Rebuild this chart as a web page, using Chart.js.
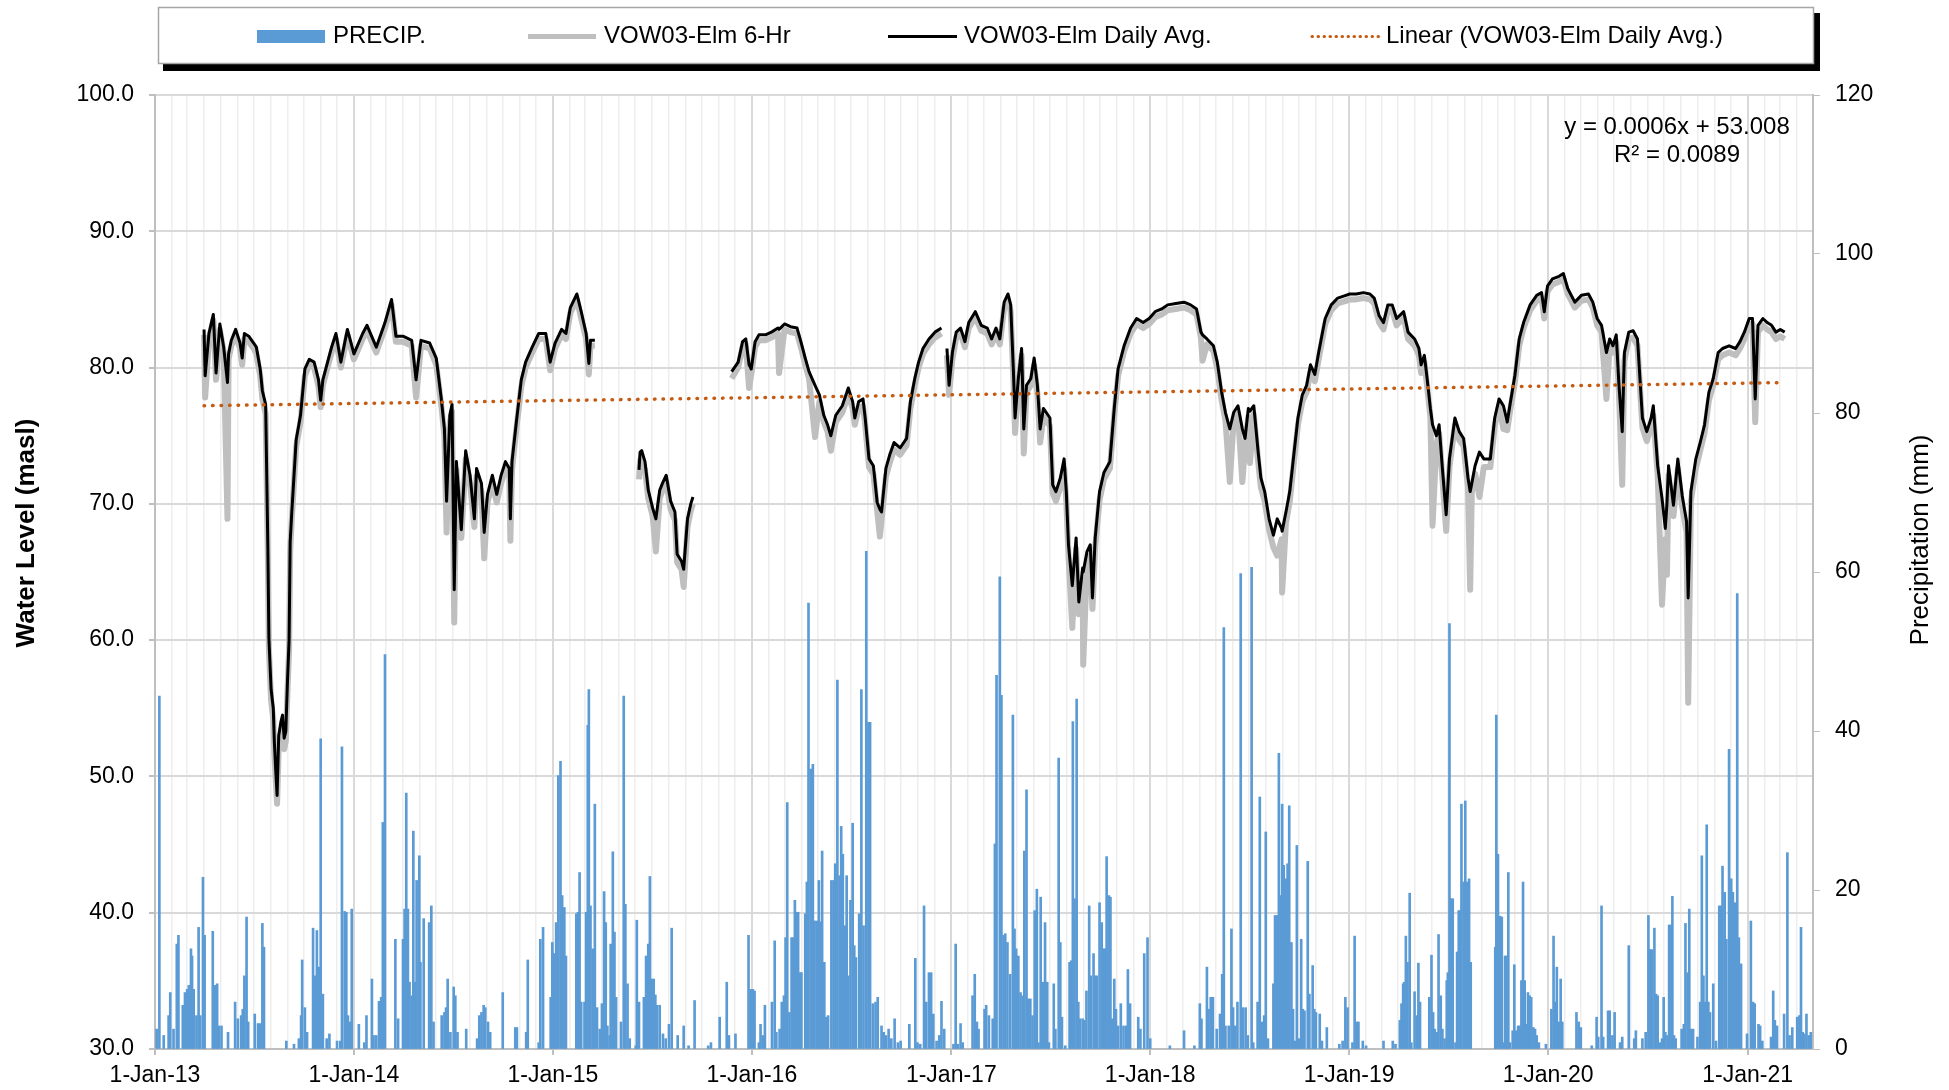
<!DOCTYPE html>
<html>
<head>
<meta charset="utf-8">
<title>VOW03-Elm water level and precipitation</title>
<script src="https://cdn.jsdelivr.net/npm/chart.js@4.4.1/dist/chart.umd.min.js"></script>
<style>
  html, body { margin: 0; padding: 0; background: #fff; }
  #wrap { width: 1949px; height: 1090px; position: relative; }
</style>
</head>
<body>
<div id="wrap"><canvas id="chart"></canvas></div>
<script>
// x values are Excel serial dates, like in the source sheet (41275 = 1-Jan-13)
const xMin = 41275;
const xMax = 44317;

const levelTicks = [30, 40, 50, 60, 70, 80, 90, 100];
const precipTicks = [0, 20, 40, 60, 80, 100, 120];

// VOW03-Elm daily average water level (masl), null = no record
const dailyAvg = [
  ['2013-04-01', 82.8], ['2013-04-03', 79.4], ['2013-04-10', 82.5], ['2013-04-18', 83.9], ['2013-04-23', 79.6],
  ['2013-04-30', 83.2], ['2013-05-07', 81.5], ['2013-05-14', 78.9], ['2013-05-16', 81.0], ['2013-05-21', 82.0],
  ['2013-05-29', 82.8], ['2013-06-06', 81.8], ['2013-06-10', 80.7], ['2013-06-14', 82.5], ['2013-06-22', 82.3],
  ['2013-07-01', 81.8], ['2013-07-06', 81.5], ['2013-07-13', 79.9], ['2013-07-17', 78.3], ['2013-07-23', 77.3],
  ['2013-07-27', 67.0], ['2013-07-29', 60.1], ['2013-08-02', 56.4], ['2013-08-06', 55.0], ['2013-08-08', 52.5],
  ['2013-08-11', 50.1], ['2013-08-13', 48.6], ['2013-08-16', 53.0], ['2013-08-20', 54.0], ['2013-08-23', 54.5],
  ['2013-08-26', 52.8], ['2013-08-29', 53.3], ['2013-09-01', 56.9], ['2013-09-04', 60.0], ['2013-09-06', 67.2],
  ['2013-09-09', 69.4], ['2013-09-17', 74.7], ['2013-09-25', 76.5], ['2013-10-03', 79.9], ['2013-10-11', 80.6],
  ['2013-10-20', 80.4], ['2013-10-28', 79.1], ['2013-11-01', 77.6], ['2013-11-05', 79.1], ['2013-11-21', 81.5],
  ['2013-11-29', 82.5], ['2013-12-08', 80.4], ['2013-12-20', 82.8], ['2014-01-01', 81.0], ['2014-01-17', 82.5],
  ['2014-01-25', 83.1], ['2014-02-11', 81.5], ['2014-02-27', 83.3], ['2014-03-11', 85.0], ['2014-03-19', 82.3],
  ['2014-04-01', 82.3], ['2014-04-17', 82.0], ['2014-04-25', 79.1], ['2014-05-04', 82.0], ['2014-05-20', 81.8],
  ['2014-06-01', 80.7], ['2014-06-10', 77.8], ['2014-06-16', 75.5], ['2014-06-20', 70.2], ['2014-06-26', 76.5],
  ['2014-06-30', 77.3], ['2014-07-04', 63.7], ['2014-07-08', 73.1], ['2014-07-17', 68.1], ['2014-07-25', 73.9],
  ['2014-08-02', 72.1], ['2014-08-10', 68.9], ['2014-08-14', 72.6], ['2014-08-23', 71.5], ['2014-08-28', 67.9],
  ['2014-09-03', 70.7], ['2014-09-12', 72.1], ['2014-09-20', 70.7], ['2014-09-28', 72.1], ['2014-10-06', 73.1],
  ['2014-10-13', 72.6], ['2014-10-15', 68.9], ['2014-10-18', 73.1], ['2014-10-26', 76.0], ['2014-11-04', 79.1],
  ['2014-11-12', 80.4], ['2014-11-24', 81.5], ['2014-12-06', 82.5], ['2014-12-19', 82.5], ['2014-12-27', 80.4],
  ['2015-01-05', 81.8], ['2015-01-17', 82.8], ['2015-01-25', 82.5], ['2015-02-02', 84.4], ['2015-02-14', 85.4],
  ['2015-02-22', 84.1], ['2015-03-03', 82.5], ['2015-03-08', 80.3], ['2015-03-11', 82.0], ['2015-03-19', 82.0],
  ['2015-04-20', null],
  ['2015-06-08', 72.5], ['2015-06-10', 73.8], ['2015-06-13', 73.9], ['2015-06-19', 73.1], ['2015-06-25', 71.0],
  ['2015-07-03', 69.7], ['2015-07-09', 68.9], ['2015-07-16', 71.0], ['2015-07-21', 71.5], ['2015-07-28', 72.1],
  ['2015-08-05', 70.2], ['2015-08-13', 69.4], ['2015-08-17', 66.3], ['2015-08-25', 65.8], ['2015-08-29', 65.2],
  ['2015-09-05', 68.9], ['2015-09-11', 70.0], ['2015-09-15', 70.5],
  ['2015-10-15', null],
  ['2015-11-25', 79.7], ['2015-12-07', 80.4], ['2015-12-15', 81.9], ['2015-12-21', 82.1], ['2015-12-27', 80.2],
  ['2015-12-31', 79.9], ['2016-01-07', 81.9], ['2016-01-14', 82.4], ['2016-01-26', 82.4], ['2016-02-06', 82.6],
  ['2016-02-18', 82.9], ['2016-02-20', 82.8], ['2016-03-01', 83.2], ['2016-03-12', 83.0], ['2016-03-24', 82.9],
  ['2016-03-31', 81.9], ['2016-04-08', 80.7], ['2016-04-15', 79.7], ['2016-04-26', 78.7], ['2016-05-04', 78.0],
  ['2016-05-12', 76.5], ['2016-05-19', 75.8], ['2016-05-25', 75.0], ['2016-06-03', 76.5], ['2016-06-15', 77.2],
  ['2016-06-26', 78.5], ['2016-07-04', 77.5], ['2016-07-08', 76.3], ['2016-07-15', 77.5], ['2016-07-23', 77.7],
  ['2016-07-27', 76.3], ['2016-08-03', 73.3], ['2016-08-11', 72.8], ['2016-08-18', 70.1], ['2016-08-23', 69.6],
  ['2016-08-26', 69.4], ['2016-09-03', 72.6], ['2016-09-10', 73.6], ['2016-09-18', 74.5], ['2016-09-29', 74.1],
  ['2016-10-11', 74.8], ['2016-10-18', 77.5], ['2016-10-26', 79.2], ['2016-11-02', 80.4], ['2016-11-10', 81.4],
  ['2016-11-21', 82.1], ['2016-12-02', 82.6], ['2016-12-14', 82.9],
  ['2016-12-19', null],
  ['2016-12-24', 81.4], ['2016-12-28', 78.7], ['2017-01-03', 81.1], ['2017-01-10', 82.6], ['2017-01-18', 82.9],
  ['2017-01-26', 81.9], ['2017-02-02', 83.3], ['2017-02-14', 84.1], ['2017-02-25', 83.1], ['2017-03-08', 82.9],
  ['2017-03-16', 82.1], ['2017-03-24', 82.9], ['2017-03-31', 82.1], ['2017-04-08', 84.8], ['2017-04-15', 85.4],
  ['2017-04-20', 84.6], ['2017-04-25', 79.7], ['2017-04-28', 76.3], ['2017-05-04', 79.2], ['2017-05-10', 81.4],
  ['2017-05-14', 75.5], ['2017-05-19', 78.7], ['2017-05-27', 79.2], ['2017-06-02', 80.7], ['2017-06-08', 78.7],
  ['2017-06-13', 75.5], ['2017-06-19', 77.0], ['2017-07-01', 76.3], ['2017-07-06', 71.4], ['2017-07-12', 70.9],
  ['2017-07-20', 71.9], ['2017-07-27', 73.3], ['2017-07-31', 70.9], ['2017-08-04', 67.0], ['2017-08-11', 64.0],
  ['2017-08-18', 67.5], ['2017-08-23', 62.8], ['2017-08-30', 65.3], ['2017-08-31', 65.0], ['2017-09-07', 66.5],
  ['2017-09-13', 67.0], ['2017-09-17', 63.1], ['2017-09-22', 67.5], ['2017-09-30', 70.9], ['2017-10-08', 72.3],
  ['2017-10-19', 73.1], ['2017-10-27', 77.0], ['2017-11-03', 79.9], ['2017-11-14', 81.6], ['2017-11-26', 82.9],
  ['2017-12-07', 83.6], ['2017-12-19', 83.3], ['2017-12-30', 83.6], ['2018-01-10', 84.1], ['2018-01-22', 84.3],
  ['2018-02-02', 84.6], ['2018-02-17', 84.7], ['2018-03-04', 84.8], ['2018-03-16', 84.6], ['2018-03-27', 84.3],
  ['2018-04-04', 82.6], ['2018-04-07', 82.4], ['2018-04-15', 82.1], ['2018-04-27', 81.6], ['2018-05-04', 80.4],
  ['2018-05-12', 78.2], ['2018-05-19', 76.7], ['2018-05-27', 75.5], ['2018-06-03', 76.7], ['2018-06-11', 77.2],
  ['2018-06-19', 75.5], ['2018-06-24', 74.8], ['2018-06-30', 77.0], ['2018-07-03', 76.8], ['2018-07-10', 77.2],
  ['2018-07-18', 73.8], ['2018-07-23', 71.9], ['2018-07-30', 70.9], ['2018-08-07', 68.9], ['2018-08-15', 67.7],
  ['2018-08-22', 68.9], ['2018-08-30', 68.2], ['2018-08-31', 68.0], ['2018-09-07', 69.4], ['2018-09-14', 70.9],
  ['2018-09-22', 73.8], ['2018-09-29', 76.3], ['2018-10-07', 78.0], ['2018-10-15', 78.7], ['2018-10-22', 80.2],
  ['2018-10-30', 79.5], ['2018-11-06', 81.1], ['2018-11-18', 83.6], ['2018-11-29', 84.6], ['2018-12-11', 85.1],
  ['2018-12-26', 85.3], ['2019-01-02', 85.4], ['2019-01-14', 85.4], ['2019-01-27', 85.5], ['2019-02-08', 85.4],
  ['2019-02-16', 85.1], ['2019-02-25', 83.8], ['2019-03-05', 83.3], ['2019-03-13', 84.6], ['2019-03-21', 84.6],
  ['2019-03-29', 83.6], ['2019-04-11', 84.1], ['2019-04-19', 82.6], ['2019-05-01', 82.1], ['2019-05-09', 81.4],
  ['2019-05-13', 80.2], ['2019-05-19', 80.9], ['2019-05-24', 79.2], ['2019-05-30', 77.0], ['2019-06-03', 75.8],
  ['2019-06-10', 75.0], ['2019-06-15', 75.8], ['2019-06-21', 72.6], ['2019-06-28', 69.2], ['2019-07-04', 73.3],
  ['2019-07-14', 76.3], ['2019-07-22', 75.3], ['2019-07-30', 74.8], ['2019-08-07', 71.9], ['2019-08-11', 70.9],
  ['2019-08-14', 71.5], ['2019-08-20', 72.8], ['2019-08-28', 73.8], ['2019-09-05', 73.3], ['2019-09-17', 73.3],
  ['2019-09-25', 76.3], ['2019-10-03', 77.7], ['2019-10-11', 77.2], ['2019-10-18', 76.0], ['2019-10-24', 77.5],
  ['2019-11-01', 79.4], ['2019-11-09', 82.1], ['2019-11-17', 83.3], ['2019-11-29', 84.6], ['2019-12-11', 85.3],
  ['2019-12-20', 85.5], ['2019-12-25', 84.1], ['2019-12-31', 86.0], ['2020-01-09', 86.5], ['2020-01-21', 86.7],
  ['2020-01-29', 86.9], ['2020-02-06', 85.8], ['2020-02-19', 84.8], ['2020-03-02', 85.3], ['2020-03-15', 85.4],
  ['2020-03-23', 84.8], ['2020-03-31', 83.6], ['2020-04-08', 83.1], ['2020-04-17', 81.1], ['2020-04-23', 82.1],
  ['2020-04-29', 81.6], ['2020-05-05', 82.4], ['2020-05-10', 78.7], ['2020-05-16', 75.3], ['2020-05-20', 81.1],
  ['2020-05-28', 82.6], ['2020-06-05', 82.7], ['2020-06-13', 82.1], ['2020-06-22', 76.3], ['2020-06-30', 75.3],
  ['2020-07-08', 76.3], ['2020-07-12', 77.2], ['2020-07-20', 72.8], ['2020-07-28', 70.4], ['2020-08-03', 68.2],
  ['2020-08-06', 70.0], ['2020-08-09', 72.8], ['2020-08-18', 69.9], ['2020-08-26', 73.3], ['2020-09-03', 70.6],
  ['2020-09-11', 68.7], ['2020-09-14', 63.1], ['2020-09-19', 70.9], ['2020-09-28', 73.3], ['2020-10-06', 74.5],
  ['2020-10-14', 75.8], ['2020-10-22', 78.2], ['2020-10-30', 79.2], ['2020-11-08', 81.1], ['2020-11-16', 81.4],
  ['2020-11-28', 81.6], ['2020-12-10', 81.4], ['2020-12-18', 81.9], ['2020-12-26', 82.6], ['2021-01-04', 83.6],
  ['2021-01-10', 83.6], ['2021-01-15', 77.7], ['2021-01-20', 83.1], ['2021-01-29', 83.6], ['2021-02-06', 83.3],
  ['2021-02-14', 83.1], ['2021-02-22', 82.6], ['2021-03-02', 82.8], ['2021-03-10', 82.6],
];

// VOW03-Elm 6-hour readings (masl), lower envelope and single-reading dips
const sixHour = [
  ['2013-04-01', 82.4], ['2013-04-03', 77.8], ['2013-04-10', 82.1], ['2013-04-18', 83.5], ['2013-04-23', 79.1],
  ['2013-04-30', 82.8], ['2013-05-07', 81.1], ['2013-05-14', 68.9], ['2013-05-16', 80.6], ['2013-05-21', 81.6],
  ['2013-05-29', 82.4], ['2013-06-06', 81.4], ['2013-06-10', 80.2], ['2013-06-14', 82.1], ['2013-06-22', 81.9],
  ['2013-07-01', 81.4], ['2013-07-06', 81.0], ['2013-07-13', 79.4], ['2013-07-17', 77.7], ['2013-07-23', 76.6],
  ['2013-07-27', 66.3], ['2013-07-29', 59.3], ['2013-08-02', 55.6], ['2013-08-06', 54.2], ['2013-08-08', 51.7],
  ['2013-08-11', 49.4], ['2013-08-13', 48.0], ['2013-08-16', 52.2], ['2013-08-20', 53.2], ['2013-08-23', 53.8],
  ['2013-08-26', 52.0], ['2013-08-29', 52.6], ['2013-09-01', 56.2], ['2013-09-04', 59.3], ['2013-09-06', 66.5],
  ['2013-09-09', 68.9], ['2013-09-17', 74.2], ['2013-09-25', 76.0], ['2013-10-03', 79.4], ['2013-10-11', 80.2],
  ['2013-10-20', 80.0], ['2013-10-28', 78.6], ['2013-11-01', 77.1], ['2013-11-05', 78.7], ['2013-11-21', 81.1],
  ['2013-11-29', 82.1], ['2013-12-08', 80.0], ['2013-12-20', 82.4], ['2014-01-01', 80.6], ['2014-01-17', 82.1],
  ['2014-01-25', 82.7], ['2014-02-11', 81.1], ['2014-02-27', 82.9], ['2014-03-11', 84.6], ['2014-03-19', 81.9],
  ['2014-04-01', 81.9], ['2014-04-17', 81.6], ['2014-04-25', 77.8], ['2014-05-04', 81.6], ['2014-05-20', 81.4],
  ['2014-06-01', 80.2], ['2014-06-10', 77.3], ['2014-06-16', 75.0], ['2014-06-20', 67.9], ['2014-06-26', 76.0],
  ['2014-06-30', 76.8], ['2014-07-04', 61.3], ['2014-07-08', 72.5], ['2014-07-17', 67.5], ['2014-07-25', 73.3],
  ['2014-08-02', 71.5], ['2014-08-10', 68.3], ['2014-08-14', 72.0], ['2014-08-23', 70.9], ['2014-08-28', 66.0],
  ['2014-09-03', 70.1], ['2014-09-12', 71.5], ['2014-09-20', 70.1], ['2014-09-28', 71.5], ['2014-10-06', 72.6],
  ['2014-10-13', 72.0], ['2014-10-15', 67.3], ['2014-10-18', 72.5], ['2014-10-26', 75.5], ['2014-11-04', 78.6],
  ['2014-11-12', 80.0], ['2014-11-24', 81.1], ['2014-12-06', 82.1], ['2014-12-19', 82.1], ['2014-12-27', 79.8],
  ['2015-01-05', 81.4], ['2015-01-17', 82.4], ['2015-01-25', 82.1], ['2015-02-02', 84.0], ['2015-02-14', 85.0],
  ['2015-02-22', 83.6], ['2015-03-03', 82.1], ['2015-03-08', 79.5], ['2015-03-11', 81.6], ['2015-03-19', 81.6],
  ['2015-04-20', null],
  ['2015-06-08', 71.8], ['2015-06-10', 73.2], ['2015-06-13', 73.4], ['2015-06-19', 72.5], ['2015-06-25', 70.4],
  ['2015-07-03', 69.1], ['2015-07-09', 66.5], ['2015-07-16', 70.4], ['2015-07-21', 71.0], ['2015-07-28', 71.6],
  ['2015-08-05', 69.6], ['2015-08-13', 68.8], ['2015-08-17', 65.7], ['2015-08-25', 65.2], ['2015-08-29', 63.9],
  ['2015-09-05', 68.3], ['2015-09-11', 69.5], ['2015-09-15', 70.0],
  ['2015-10-15', null],
  ['2015-11-25', 79.2], ['2015-12-07', 80.0], ['2015-12-15', 81.5], ['2015-12-21', 81.7], ['2015-12-27', 78.5],
  ['2015-12-31', 79.5], ['2016-01-07', 81.5], ['2016-01-14', 82.0], ['2016-01-26', 82.0], ['2016-02-06', 82.2],
  ['2016-02-18', 82.5], ['2016-02-20', 79.6], ['2016-03-01', 82.8], ['2016-03-12', 82.6], ['2016-03-24', 82.5],
  ['2016-03-31', 81.5], ['2016-04-08', 80.2], ['2016-04-15', 79.2], ['2016-04-26', 74.9], ['2016-05-04', 77.5],
  ['2016-05-12', 76.0], ['2016-05-19', 75.3], ['2016-05-25', 73.9], ['2016-06-03', 76.0], ['2016-06-15', 76.7],
  ['2016-06-26', 78.0], ['2016-07-04', 77.0], ['2016-07-08', 75.8], ['2016-07-15', 77.0], ['2016-07-23', 77.2],
  ['2016-07-27', 75.8], ['2016-08-03', 72.7], ['2016-08-11', 72.2], ['2016-08-18', 69.5], ['2016-08-23', 67.6],
  ['2016-08-26', 68.8], ['2016-09-03', 72.0], ['2016-09-10', 73.0], ['2016-09-18', 74.0], ['2016-09-29', 73.6],
  ['2016-10-11', 74.3], ['2016-10-18', 77.0], ['2016-10-26', 78.7], ['2016-11-02', 80.0], ['2016-11-10', 81.0],
  ['2016-11-21', 81.7], ['2016-12-02', 82.2], ['2016-12-14', 82.5],
  ['2016-12-19', null],
  ['2016-12-24', 80.9], ['2016-12-28', 78.0], ['2017-01-03', 80.6], ['2017-01-10', 82.2], ['2017-01-18', 82.5],
  ['2017-01-26', 81.5], ['2017-02-02', 82.9], ['2017-02-14', 83.7], ['2017-02-25', 82.7], ['2017-03-08', 82.5],
  ['2017-03-16', 81.7], ['2017-03-24', 82.5], ['2017-03-31', 81.7], ['2017-04-08', 84.4], ['2017-04-15', 85.0],
  ['2017-04-20', 84.1], ['2017-04-25', 79.1], ['2017-04-28', 75.2], ['2017-05-04', 78.7], ['2017-05-10', 80.9],
  ['2017-05-14', 73.7], ['2017-05-19', 78.2], ['2017-05-27', 78.7], ['2017-06-02', 80.2], ['2017-06-08', 78.1],
  ['2017-06-13', 74.5], ['2017-06-19', 76.4], ['2017-07-01', 75.7], ['2017-07-06', 70.8], ['2017-07-12', 70.2],
  ['2017-07-20', 71.2], ['2017-07-27', 72.6], ['2017-07-31', 70.2], ['2017-08-04', 66.2], ['2017-08-11', 60.9],
  ['2017-08-18', 66.7], ['2017-08-23', 61.9], ['2017-08-30', 64.4], ['2017-08-31', 58.2], ['2017-09-07', 65.7],
  ['2017-09-13', 66.2], ['2017-09-17', 62.3], ['2017-09-22', 66.8], ['2017-09-30', 70.3], ['2017-10-08', 71.8],
  ['2017-10-19', 72.6], ['2017-10-27', 76.5], ['2017-11-03', 79.4], ['2017-11-14', 81.2], ['2017-11-26', 82.5],
  ['2017-12-07', 83.2], ['2017-12-19', 82.9], ['2017-12-30', 83.2], ['2018-01-10', 83.7], ['2018-01-22', 83.9],
  ['2018-02-02', 84.2], ['2018-02-17', 84.3], ['2018-03-04', 84.4], ['2018-03-16', 84.2], ['2018-03-27', 83.9],
  ['2018-04-04', 82.2], ['2018-04-07', 80.5], ['2018-04-15', 81.7], ['2018-04-27', 81.2], ['2018-05-04', 79.9],
  ['2018-05-12', 77.6], ['2018-05-19', 76.1], ['2018-05-27', 71.6], ['2018-06-03', 76.1], ['2018-06-11', 76.6],
  ['2018-06-19', 71.6], ['2018-06-24', 74.2], ['2018-06-30', 76.4], ['2018-07-03', 73.0], ['2018-07-10', 76.6],
  ['2018-07-18', 73.1], ['2018-07-23', 71.2], ['2018-07-30', 70.2], ['2018-08-07', 68.1], ['2018-08-15', 66.8],
  ['2018-08-22', 66.2], ['2018-08-30', 67.4], ['2018-08-31', 63.5], ['2018-09-07', 68.6], ['2018-09-14', 70.2],
  ['2018-09-22', 73.2], ['2018-09-29', 75.8], ['2018-10-07', 77.5], ['2018-10-15', 78.2], ['2018-10-22', 79.7],
  ['2018-10-30', 79.0], ['2018-11-06', 80.6], ['2018-11-18', 83.2], ['2018-11-29', 84.2], ['2018-12-11', 84.7],
  ['2018-12-26', 84.9], ['2019-01-02', 85.0], ['2019-01-14', 85.0], ['2019-01-27', 85.1], ['2019-02-08', 85.0],
  ['2019-02-16', 84.7], ['2019-02-25', 83.3], ['2019-03-05', 82.8], ['2019-03-13', 84.2], ['2019-03-21', 84.2],
  ['2019-03-29', 83.1], ['2019-04-11', 83.7], ['2019-04-19', 82.1], ['2019-05-01', 81.6], ['2019-05-09', 80.9],
  ['2019-05-13', 79.6], ['2019-05-19', 80.4], ['2019-05-24', 78.6], ['2019-05-30', 76.4], ['2019-06-03', 68.4],
  ['2019-06-10', 74.4], ['2019-06-15', 75.2], ['2019-06-21', 71.9], ['2019-06-28', 68.0], ['2019-07-04', 72.7],
  ['2019-07-14', 75.8], ['2019-07-22', 74.7], ['2019-07-30', 74.2], ['2019-08-07', 71.2], ['2019-08-11', 63.7],
  ['2019-08-14', 70.9], ['2019-08-20', 72.2], ['2019-08-28', 70.5], ['2019-09-05', 72.7], ['2019-09-17', 72.7],
  ['2019-09-25', 75.7], ['2019-10-03', 77.2], ['2019-10-11', 75.5], ['2019-10-18', 75.4], ['2019-10-24', 77.0],
  ['2019-11-01', 78.9], ['2019-11-09', 81.6], ['2019-11-17', 82.9], ['2019-11-29', 84.2], ['2019-12-11', 84.9],
  ['2019-12-20', 85.1], ['2019-12-25', 83.6], ['2019-12-31', 85.6], ['2020-01-09', 86.1], ['2020-01-21', 86.3],
  ['2020-01-29', 86.5], ['2020-02-06', 85.4], ['2020-02-19', 84.4], ['2020-03-02', 84.9], ['2020-03-15', 85.0],
  ['2020-03-23', 84.4], ['2020-03-31', 83.1], ['2020-04-08', 82.6], ['2020-04-17', 77.7], ['2020-04-23', 81.6],
  ['2020-04-29', 81.1], ['2020-05-05', 81.9], ['2020-05-10', 78.1], ['2020-05-16', 71.4], ['2020-05-20', 80.5],
  ['2020-05-28', 82.1], ['2020-06-05', 82.2], ['2020-06-13', 81.6], ['2020-06-22', 75.6], ['2020-06-30', 74.6],
  ['2020-07-08', 75.7], ['2020-07-12', 76.5], ['2020-07-20', 72.1], ['2020-07-28', 62.6], ['2020-08-03', 67.4],
  ['2020-08-06', 64.8], ['2020-08-09', 72.1], ['2020-08-18', 69.1], ['2020-08-26', 72.6], ['2020-09-03', 69.8],
  ['2020-09-11', 67.9], ['2020-09-14', 55.4], ['2020-09-19', 70.2], ['2020-09-28', 72.6], ['2020-10-06', 73.9],
  ['2020-10-14', 75.2], ['2020-10-22', 77.6], ['2020-10-30', 78.7], ['2020-11-08', 80.6], ['2020-11-16', 80.9],
  ['2020-11-28', 81.1], ['2020-12-10', 80.9], ['2020-12-18', 81.4], ['2020-12-26', 82.1], ['2021-01-04', 83.2],
  ['2021-01-10', 83.2], ['2021-01-15', 76.0], ['2021-01-20', 82.6], ['2021-01-29', 83.1], ['2021-02-06', 82.8],
  ['2021-02-14', 82.6], ['2021-02-22', 82.1], ['2021-03-02', 82.3], ['2021-03-10', 82.1],
];

// Excel linear trendline of the daily average, read at its two ends
const trend = [['2013-04-01', 77.2], ['2021-03-10', 78.9]];

// daily precipitation (Excel serial date, mm)
const precip = [
  [41278,2.5],[41283,44.4],[41291,1.7],[41300,4.2],[41303,7.1],[41309,2.5],[41315,13.2],[41318,14.3],[41326,5.5],[41330,7.1],
  [41334,7.5],[41337,8.0],[41341,12.6],[41343,11.7],[41346,7.5],[41351,4.2],[41355,15.3],[41358,4.2],[41363,21.6],[41366,14.3],
  [41381,14.8],[41385,8.0],[41389,8.2],[41392,2.9],[41397,2.9],[41409,2.1],[41422,5.9],[41427,3.8],[41433,4.2],[41436,5.0],
  [41439,9.2],[41443,16.6],[41446,3.4],[41458,4.4],[41464,3.2],[41468,3.2],[41472,15.8],[41475,12.8],[41516,1.0],[41530,0.6],
  [41539,1.3],[41543,4.2],[41545,11.2],[41550,5.2],[41554,2.1],[41565,15.2],[41568,9.2],[41572,14.9],[41576,10.3],[41579,39.0],
  [41583,6.9],[41590,1.3],[41595,1.9],[41609,1.0],[41615,1.0],[41618,38.0],[41623,17.3],[41626,17.2],[41629,4.2],[41633,3.4],
  [41636,17.6],
  [41649,3.1],[41659,0.8],[41663,4.2],[41673,8.8],[41676,1.7],[41681,1.7],[41686,6.0],[41690,6.5],[41693,28.5],[41697,49.6],
  [41716,13.8],[41721,3.8],[41730,13.8],[41733,17.6],[41736,32.2],[41739,17.6],[41742,8.4],[41746,6.7],[41749,27.4],[41752,8.4],
  [41755,21.2],[41760,24.3],[41762,10.9],[41768,16.4],[41778,15.9],[41782,18.0],[41786,3.4],[41801,4.2],[41806,4.6],[41809,5.2],
  [41812,8.8],[41817,2.1],[41823,7.8],[41826,6.7],[41830,2.1],[41846,2.5],[41866,1.3],[41870,4.2],[41874,4.6],[41878,5.5],
  [41881,5.2],[41886,3.4],[41890,2.1],[41913,7.1],[41936,2.7],[41939,2.7],[41956,2.1],[41959,11.2],[41979,0.8],[41982,13.8],
  [41987,15.3],[42001,6.5],[42004,13.4],
  [42007,12.0],[42011,15.9],[42015,34.4],[42019,36.2],[42022,19.3],[42026,17.8],[42029,11.7],[42048,17.0],[42051,17.2],[42054,22.2],
  [42057,5.9],[42063,5.9],[42066,17.2],[42069,40.7],[42071,45.2],[42074,18.0],[42078,12.6],[42082,30.8],[42086,5.2],[42091,2.5],
  [42095,5.7],[42099,19.8],[42102,15.9],[42105,2.9],[42109,1.7],[42111,13.2],[42115,24.8],[42118,14.7],[42121,6.5],[42130,3.4],
  [42135,44.4],[42138,18.2],[42142,8.2],[42146,1.3],[42157,0.4],[42159,16.2],[42163,5.9],[42172,6.5],[42176,11.7],[42180,13.2],
  [42183,21.7],[42187,8.8],[42190,8.8],[42193,6.8],[42196,5.5],[42201,5.5],[42207,1.9],[42212,1.3],[42218,3.1],[42223,15.2],
  [42234,1.7],[42245,2.9],[42254,0.4],[42265,6.1],[42290,0.4],[42295,0.8],[42311,4.0],[42324,8.4],[42328,1.7],[42340,1.9],
  [42364,14.3],[42368,7.5],
  [42372,7.5],[42375,7.3],[42383,0.8],[42386,3.1],[42390,1.7],[42394,5.5],[42407,5.9],[42412,13.6],[42415,2.1],[42421,2.5],
  [42425,5.9],[42429,6.7],[42432,14.0],[42435,31.0],[42439,4.6],[42443,14.0],[42445,14.0],[42449,18.7],[42452,17.2],[42455,17.2],
  [42459,9.6],[42461,9.6],[42468,17.0],[42471,21.0],[42474,56.1],[42478,35.2],[42482,35.8],[42485,16.1],[42489,16.1],[42493,21.2],
  [42495,16.0],[42499,24.9],[42503,10.9],[42506,4.0],[42510,4.2],[42516,21.2],[42520,21.2],[42523,23.3],[42527,46.4],[42531,21.8],
  [42534,28.0],[42537,24.5],[42541,15.5],[42544,21.8],[42547,9.2],[42551,18.7],[42555,28.4],[42558,13.0],[42561,11.5],[42567,17.0],
  [42571,45.2],[42575,15.5],[42580,62.6],[42584,41.1],[42587,41.1],[42592,5.7],[42597,5.9],[42601,6.5],[42608,2.9],[42612,2.1],
  [42616,1.7],[42621,2.5],[42626,1.3],[42632,3.8],[42638,0.8],[42643,1.0],[42659,3.1],[42670,11.4],[42674,0.8],[42679,0.6],
  [42686,18.0],[42690,5.9],[42695,9.6],[42699,9.6],[42703,4.4],[42709,1.0],[42714,1.7],[42718,6.0],[42723,2.5],
  [42740,0.6],[42744,13.2],[42748,0.6],[42753,3.2],[42757,0.8],[42775,6.7],[42779,9.4],[42783,3.4],[42786,2.5],[42797,5.0],
  [42800,5.5],[42805,4.2],[42812,3.8],[42816,25.8],[42819,47.0],[42825,59.4],[42828,44.5],[42832,14.3],[42835,14.5],[42839,13.4],
  [42844,9.4],[42849,42.0],[42852,15.1],[42855,12.6],[42859,11.7],[42863,7.1],[42867,6.7],[42870,24.9],[42874,32.6],[42877,6.3],
  [42881,6.3],[42885,4.2],[42889,17.4],[42893,20.1],[42896,0.8],[42900,19.1],[42904,8.4],[42908,15.9],[42912,8.4],[42915,0.8],
  [42924,8.2],[42927,2.5],[42933,36.6],[42936,13.4],[42939,4.0],[42945,0.4],[42953,10.9],[42956,11.1],[42959,41.2],[42962,18.9],
  [42966,44.0],[42969,5.9],[42972,3.8],[42977,3.8],[42980,3.6],[42984,7.3],[42989,18.0],[42992,9.2],[42997,12.0],[43000,9.2],
  [43003,9.2],[43008,18.4],[43012,15.9],[43015,12.6],[43018,12.6],[43021,24.2],[43025,19.3],[43028,19.1],[43031,3.8],[43035,8.8],
  [43038,5.0],[43042,2.9],[43047,5.7],[43052,2.9],[43057,2.9],[43060,10.0],[43064,5.7],[43079,4.0],[43083,2.5],[43090,12.0],
  [43096,14.0],
  [43101,1.3],[43137,0.4],[43163,2.3],[43182,0.4],[43192,5.7],[43195,3.8],[43205,10.3],[43208,5.0],[43212,6.5],[43216,6.5],
  [43223,2.5],[43229,4.4],[43233,9.4],[43236,53.0],[43239,2.9],[43245,2.9],[43250,15.1],[43253,5.2],[43257,2.9],[43261,5.9],
  [43267,59.8],[43271,5.2],[43276,5.2],[43280,1.7],[43287,60.6],[43290,0.8],[43298,5.9],[43302,31.7],[43306,3.4],[43310,4.2],
  [43313,27.3],[43317,1.3],[43327,8.2],[43330,16.8],[43334,16.8],[43337,37.2],[43340,19.3],[43343,30.8],[43346,23.1],[43350,21.4],
  [43353,23.3],[43356,30.6],[43360,13.4],[43363,5.0],[43367,1.0],[43370,25.6],[43374,1.3],[43378,13.8],[43381,5.0],[43384,4.8],
  [43390,23.6],[43393,6.9],[43399,10.5],[43402,5.0],[43405,4.6],[43412,4.4],[43416,1.0],[43425,2.7],[43448,0.6],[43454,1.0],
  [43459,6.5],[43463,5.2],
  [43472,0.8],[43476,14.2],[43480,3.4],[43483,3.4],[43491,1.0],[43497,0.4],[43529,1.0],[43546,1.0],[43551,0.6],[43559,3.6],
  [43562,5.7],[43565,8.2],[43567,8.4],[43570,14.2],[43573,10.9],[43577,19.6],[43580,0.8],[43586,7.2],[43590,4.2],[43593,10.8],
  [43596,5.9],[43613,6.5],[43617,11.8],[43620,4.6],[43623,2.5],[43627,2.1],[43630,14.4],[43634,6.7],[43637,2.5],[43641,1.3],
  [43645,8.6],[43647,9.6],[43650,53.5],[43653,18.9],[43656,18.9],[43661,0.8],[43664,12.2],[43667,17.4],[43669,17.4],[43672,30.8],
  [43676,21.0],[43679,31.2],[43682,21.0],[43686,21.4],[43689,10.9],[43734,12.8],[43736,42.0],[43739,24.5],[43743,16.7],[43746,16.6],
  [43749,0.8],[43752,11.7],[43755,11.7],[43758,22.2],[43761,0.8],[43766,2.3],[43769,10.6],[43772,2.3],[43776,2.9],[43779,2.9],
  [43782,8.6],[43785,21.0],[43788,8.6],[43791,3.1],[43794,7.1],[43797,6.7],[43800,6.5],[43804,2.7],[43807,2.5],[43810,1.7],
  [43814,0.8],[43827,0.6],
  [43837,5.0],[43841,14.2],[43844,5.9],[43847,10.3],[43851,3.4],[43854,8.8],[43857,3.4],[43883,4.6],[43887,3.4],[43891,2.7],
  [43911,0.4],[43920,4.0],[43923,1.5],[43929,18.0],[43932,1.5],[43941,4.8],[43944,4.8],[43949,1.7],[43953,4.6],[43963,0.8],
  [43967,1.5],[43979,13.0],[43989,1.3],[43992,2.3],[44004,1.3],[44010,2.1],[44015,16.8],[44018,12.5],[44021,12.5],[44026,15.2],
  [44029,6.9],[44032,6.7],[44036,0.8],[44040,1.3],[44043,6.5],[44046,2.1],[44050,1.7],[44053,15.6],[44056,15.6],[44059,19.2],
  [44062,1.7],[44065,1.3],[44076,2.5],[44080,3.1],[44083,15.8],[44087,9.6],[44090,17.6],[44093,2.5],[44097,2.5],[44105,1.5],
  [44110,5.9],[44113,24.3],[44116,9.2],[44119,5.9],[44122,28.2],[44125,5.9],[44128,4.6],[44134,8.2],[44139,1.0],[44145,18.0],
  [44148,18.0],[44151,23.0],[44155,19.7],[44158,13.8],[44163,37.7],[44167,21.4],[44170,19.7],[44174,18.4],[44178,57.3],[44181,14.0],
  [44185,10.7],[44196,1.9],
  [44203,16.1],[44207,5.9],[44210,5.7],[44217,3.1],[44220,2.9],[44224,1.0],[44240,1.5],[44244,7.3],[44247,3.6],[44251,2.9],
  [44264,4.4],[44270,24.7],[44274,1.7],[44279,2.7],[44288,4.0],[44292,4.2],[44295,15.3],[44298,2.1],[44301,1.9],[44305,4.4],
  [44309,1.7],[44313,2.1],
];

const EPOCH = Date.UTC(1899, 11, 30);
const MONTHS = ['Jan', 'Feb', 'Mar', 'Apr', 'May', 'Jun', 'Jul', 'Aug', 'Sep', 'Oct', 'Nov', 'Dec'];

function toSerial(s) {
  const [y, m, d] = s.split('-').map(Number);
  return (Date.UTC(y, m - 1, d) - EPOCH) / 864e5;
}

function points(rows) {
  return rows.map(([d, v]) => ({ x: toSerial(d), y: v }));
}

function serialDate(v) {
  return new Date(EPOCH + v * 864e5);
}

function isYearStart(v) {
  const d = serialDate(v);
  return d.getUTCMonth() === 0 && d.getUTCDate() === 1;
}

// one grid line per month, labels only on 1 January
function monthTicks() {
  const out = [];
  for (let y = 2013; y <= 2021; y++) {
    for (let m = 0; m < 12; m++) {
      const s = (Date.UTC(y, m, 1) - EPOCH) / 864e5;
      if (s >= xMin && s <= xMax) out.push({ value: s });
    }
  }
  return out;
}

function dateLabel(v) {
  const d = serialDate(v);
  return d.getUTCDate() + '-' + MONTHS[d.getUTCMonth()] + '-' + String(d.getUTCFullYear()).slice(2);
}

Chart.defaults.font.family = "'Liberation Sans', Arial, sans-serif";
Chart.defaults.color = '#000';

const FONT = "'Liberation Sans', Arial, sans-serif";

const overlay = {
  id: 'overlay',
  afterDraw(chart) {
    const ctx = chart.ctx;
    ctx.save();

    // legend frame with the offset shadow
    ctx.fillStyle = '#000';
    ctx.fillRect(163, 13, 1657, 58);
    ctx.fillStyle = '#fff';
    ctx.fillRect(158, 7, 1656, 57);
    ctx.strokeStyle = '#A6A6A6';
    ctx.lineWidth = 1.5;
    ctx.strokeRect(158.5, 7.5, 1655, 56);

    const ly = 36.5;
    ctx.fillStyle = '#5B9BD5';
    ctx.fillRect(257, 30, 68, 13);

    ctx.lineCap = 'butt';
    ctx.strokeStyle = '#BFBFBF';
    ctx.lineWidth = 5;
    ctx.beginPath(); ctx.moveTo(528, ly); ctx.lineTo(596, ly); ctx.stroke();

    ctx.strokeStyle = '#000';
    ctx.lineWidth = 3;
    ctx.beginPath(); ctx.moveTo(888, ly); ctx.lineTo(957, ly); ctx.stroke();

    ctx.strokeStyle = '#C55A11';
    ctx.lineWidth = 3;
    ctx.lineCap = 'round';
    ctx.setLineDash([0.5, 5.5]);
    ctx.beginPath(); ctx.moveTo(1312, ly); ctx.lineTo(1379, ly); ctx.stroke();
    ctx.setLineDash([]);

    ctx.fillStyle = '#000';
    ctx.font = '24px ' + FONT;
    ctx.textAlign = 'left';
    ctx.textBaseline = 'middle';
    ctx.fillText('PRECIP.', 333, ly);
    ctx.fillText('VOW03-Elm 6-Hr', 604, ly);
    ctx.fillText('VOW03-Elm Daily Avg.', 964, ly);
    ctx.fillText('Linear (VOW03-Elm Daily Avg.)', 1386, ly);

    // trendline equation
    ctx.textAlign = 'center';
    ctx.fillText('y = 0.0006x + 53.008', 1677, 127);
    ctx.fillText('R\u00B2 = 0.0089', 1677, 155);

    // axis titles, both reading bottom to top
    ctx.save();
    ctx.translate(27, 533);
    ctx.rotate(-Math.PI / 2);
    ctx.font = 'bold 26px ' + FONT;
    ctx.fillText('Water Level (masl)', 0, 0);
    ctx.restore();

    ctx.save();
    ctx.translate(1921, 540);
    ctx.rotate(-Math.PI / 2);
    ctx.font = '26px ' + FONT;
    ctx.fillText('Precipitation (mm)', 0, 0);
    ctx.restore();

    ctx.restore();
  }
};

new Chart(document.getElementById('chart'), {
  type: 'bar',
  data: {
    datasets: [
      {
        type: 'line',
        label: 'Linear (VOW03-Elm Daily Avg.)',
        data: points(trend),
        yAxisID: 'y',
        borderColor: '#C55A11',
        borderWidth: 3.5,
        borderDash: [0.5, 8],
        borderCapStyle: 'round',
        pointRadius: 0,
        order: 1,
      },
      {
        type: 'line',
        label: 'VOW03-Elm Daily Avg.',
        data: points(dailyAvg),
        yAxisID: 'y',
        borderColor: '#000',
        borderWidth: 3,
        borderJoinStyle: 'round',
        pointRadius: 0,
        tension: 0,
        spanGaps: false,
        order: 2,
      },
      {
        type: 'line',
        label: 'VOW03-Elm 6-Hr',
        data: points(sixHour),
        yAxisID: 'y',
        borderColor: '#BFBFBF',
        borderWidth: 6,
        borderJoinStyle: 'round',
        pointRadius: 0,
        tension: 0,
        spanGaps: false,
        order: 3,
      },
      {
        type: 'bar',
        label: 'PRECIP.',
        data: precip.map(([x, y]) => ({ x, y })),
        yAxisID: 'y2',
        backgroundColor: '#5B9BD5',
        borderWidth: 0,
        barThickness: 2,
        order: 4,
      },
    ],
  },
  options: {
    responsive: true,
    maintainAspectRatio: false,
    animation: false,
    devicePixelRatio: 1,
    layout: { padding: { top: 95, left: 0, right: 0, bottom: 0 } },
    plugins: {
      legend: { display: false },
      title: { display: false },
      tooltip: { enabled: false },
    },
    scales: {
      x: {
        type: 'linear',
        min: xMin,
        max: xMax,
        offset: false,
        afterBuildTicks: (s) => { s.ticks = monthTicks(); },
        afterFit: (s) => { s.height = 41; },
        grid: {
          offset: false,
          color: (c) => (c.tick && isYearStart(c.tick.value) ? '#D9D9D9' : '#EEEEEE'),
          lineWidth: (c) => (c.tick && isYearStart(c.tick.value) ? 2 : 1.5),
          tickColor: (c) => (c.tick && isYearStart(c.tick.value) ? '#BFBFBF' : 'rgba(0,0,0,0)'),
          tickLength: 6,
        },
        border: { color: '#BFBFBF', width: 2 },
        ticks: {
          autoSkip: false,
          maxRotation: 0,
          minRotation: 0,
          padding: 7,
          color: '#000',
          font: { size: 23 },
          callback: (v) => (isYearStart(v) ? dateLabel(v) : ''),
        },
      },
      y: {
        position: 'left',
        min: 30,
        max: 100,
        afterBuildTicks: (s) => { s.ticks = levelTicks.map((v) => ({ value: v })); },
        afterFit: (s) => { s.width = 155; },
        grid: { color: '#D9D9D9', lineWidth: 2, tickColor: '#BFBFBF', tickLength: 6 },
        border: { color: '#BFBFBF', width: 2 },
        ticks: {
          padding: 15,
          color: '#000',
          font: { size: 23 },
          callback: (v) => Number(v).toFixed(1),
        },
      },
      y2: {
        position: 'right',
        min: 0,
        max: 120,
        afterBuildTicks: (s) => { s.ticks = precipTicks.map((v) => ({ value: v })); },
        afterFit: (s) => { s.width = 136; },
        grid: { drawOnChartArea: false, tickColor: '#BFBFBF', tickLength: 7 },
        border: { color: '#BFBFBF', width: 2 },
        ticks: {
          padding: 15,
          color: '#000',
          font: { size: 23 },
          callback: (v) => String(v),
        },
      },
    },
  },
  plugins: [overlay],
});
</script>
</body>
</html>
